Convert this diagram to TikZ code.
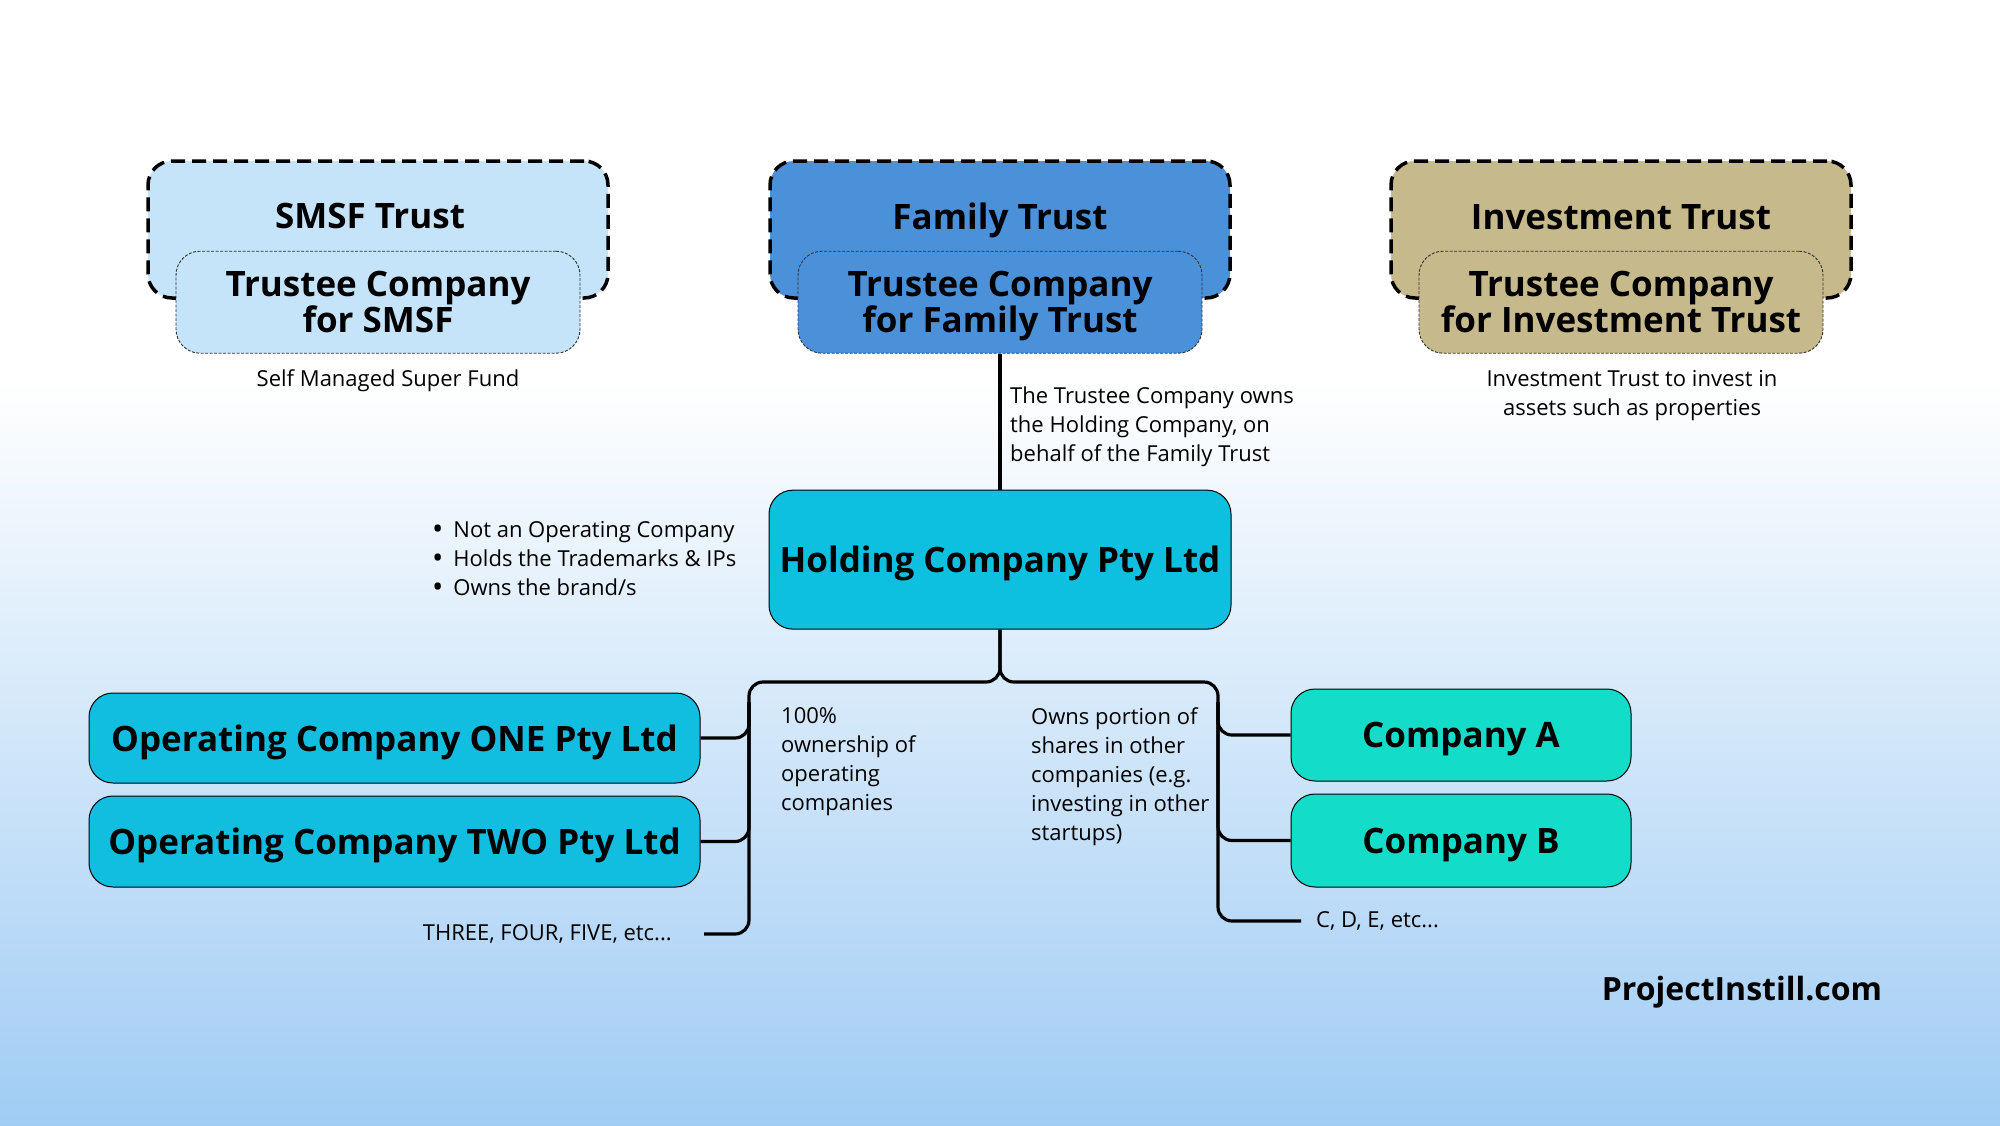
\documentclass[tikz,border=0pt]{standalone}
\usepackage{fontspec}
\setmainfont{Open Sans}
\usetikzlibrary{positioning}
\definecolor{smsfblue}{RGB}{197,228,249}
\definecolor{familyblue}{RGB}{75,145,218}
\definecolor{investtan}{RGB}{198,185,139}
\definecolor{holdcyan}{RGB}{14,192,224}
\definecolor{opcyan}{RGB}{18,190,224}
\definecolor{coteal}{RGB}{19,220,201}
\definecolor{bgmid}{RGB}{208,232,249}
\definecolor{bgbot}{RGB}{160,204,244}
\newcommand{\bigdot}{\raisebox{-1.5pt}{\fontsize{30}{29}\selectfont\textbullet}}
\tikzset{
  trustbox/.style={draw, line width=3.5pt, dash pattern=on 14pt off 7pt,
    rounded corners=24pt, minimum width=460pt, minimum height=137pt},
  trusttitle/.style={anchor=base, inner sep=0pt,
    font=\bfseries\fontsize{35}{35}\selectfont},
  trusteebox/.style={draw=black!80, line width=0.9pt, dash pattern=on 3pt off 1.5pt,
    rounded corners=24pt, minimum width=404pt, minimum height=102pt, align=center,
    text depth=0pt, font=\bfseries\fontsize{35}{35}\selectfont},
  companybox/.style={draw, line width=1pt, rounded corners=24pt, align=center,
    text depth=0pt, font=\bfseries\fontsize{35}{35}\selectfont},
  notetext/.style={inner sep=0pt, font=\fontsize{22}{29}\selectfont},
  linkline/.style={line width=3.2pt, rounded corners=14pt}
}

\begin{document}
\begin{tikzpicture}[x=1pt, y=-1pt]
  % background
  \fill[white] (0,0) rectangle (2000,381);
  \shade[top color=white, middle color=bgmid, bottom color=bgbot] (0,380) rectangle (2000,1125);
  \useasboundingbox (0,0) rectangle (2000,1125);

  % trusts
  \node[trustbox, fill=smsfblue] (smsf) at (378,229.5) {};
  \node[trustbox, fill=familyblue] (family) at (1000,229.5) {};
  \node[trustbox, fill=investtan] (invest) at (1621,229.5) {};
  \node[trusttitle] (smsft) at ([xshift=-8pt, yshift=-69pt]smsf.north) {SMSF Trust};
  \node[trusttitle] (familyt) at ([yshift=-70pt]family.north) {Family Trust};
  \node[trusttitle] (investt) at ([yshift=-70pt]invest.north) {Investment Trust};
  \node[trusteebox, below=-49pt of smsf, fill=smsfblue] (smsfco) {Trustee Company\\for SMSF};
  \node[trusteebox, below=-49pt of family, fill=familyblue] (familyco) {Trustee Company\\for Family Trust};
  \node[trusteebox, below=-49pt of invest, fill=investtan] (investco) {Trustee Company\\for Investment Trust};
  \node[notetext, below=16pt of smsfco, xshift=10pt] (smsfnote) {Self Managed Super Fund};
  \node[notetext, below=16pt of investco, xshift=11pt, align=center] (investnote)
    {Investment Trust to invest in\\assets such as properties};

  % holding company
  \node[companybox, fill=holdcyan, minimum width=462pt, minimum height=139pt,
    below=136pt of familyco] (holding) {Holding Company Pty Ltd};
  \node[notetext, below right=33pt and 10pt of familyco.south, align=left] (ownnote)
    {The Trustee Company owns\\the Holding Company, on\\behalf of the Family Trust};
  \node[notetext, left=32pt of holding, align=left] (holdnote)
    {\bigdot\hspace{10pt}Not an Operating Company\\
     \bigdot\hspace{10pt}Holds the Trademarks \& IPs\\
     \bigdot\hspace{10pt}Owns the brand/s};
  \draw[linkline] (familyco) -- (holding);

  % operating companies
  \node[companybox, fill=opcyan, minimum width=611pt, minimum height=90pt] (opone)
    at (394.5,738) {Operating Company ONE Pty Ltd};
  \node[companybox, fill=opcyan, minimum width=611pt, minimum height=91pt,
    below=12pt of opone] (optwo) {Operating Company TWO Pty Ltd};
  \coordinate (ltop) at (749,682);
  \coordinate (moreend) at (704,934);
  \node[notetext, left=32pt of moreend] (more) {THREE, FOUR, FIVE, etc...};
  \node[notetext, below right=25pt and 32pt of ltop, align=left] (opnote)
    {100\%\\ownership of\\operating\\companies};

  % other companies
  \node[companybox, fill=coteal, minimum width=340pt, minimum height=92pt] (compa)
    at (1461,735) {Company A};
  \node[companybox, fill=coteal, minimum width=340pt, minimum height=93pt,
    below=12pt of compa] (compb) {Company B};
  \coordinate (rtop) at (1218,682);
  \coordinate (cdend) at (1301,921);
  \node[notetext, right=15pt of cdend] (cdmore) {C, D, E, etc...};
  \node[notetext, below right=25pt and 31pt of holding.south |- ltop, align=left] (sharenote)
    {Owns portion of\\shares in other\\companies (e.g.\\investing in other\\startups)};

  % tree
  \draw[linkline] (holding.south) |- (ltop) |- (moreend);
  \draw[linkline] (holding.south) |- (rtop) |- (cdend);
  \draw[linkline] ([yshift=-20pt]ltop) |- (opone);
  \draw[linkline] ([yshift=-20pt]ltop) |- (optwo);
  \draw[linkline] ([yshift=-20pt]rtop) |- (compa);
  \draw[linkline] ([yshift=-20pt]rtop) |- (compb);

  \node[font=\bfseries\fontsize{32}{32}\selectfont] (site) at (1742,992) {ProjectInstill.com};
\end{tikzpicture}
\end{document}
